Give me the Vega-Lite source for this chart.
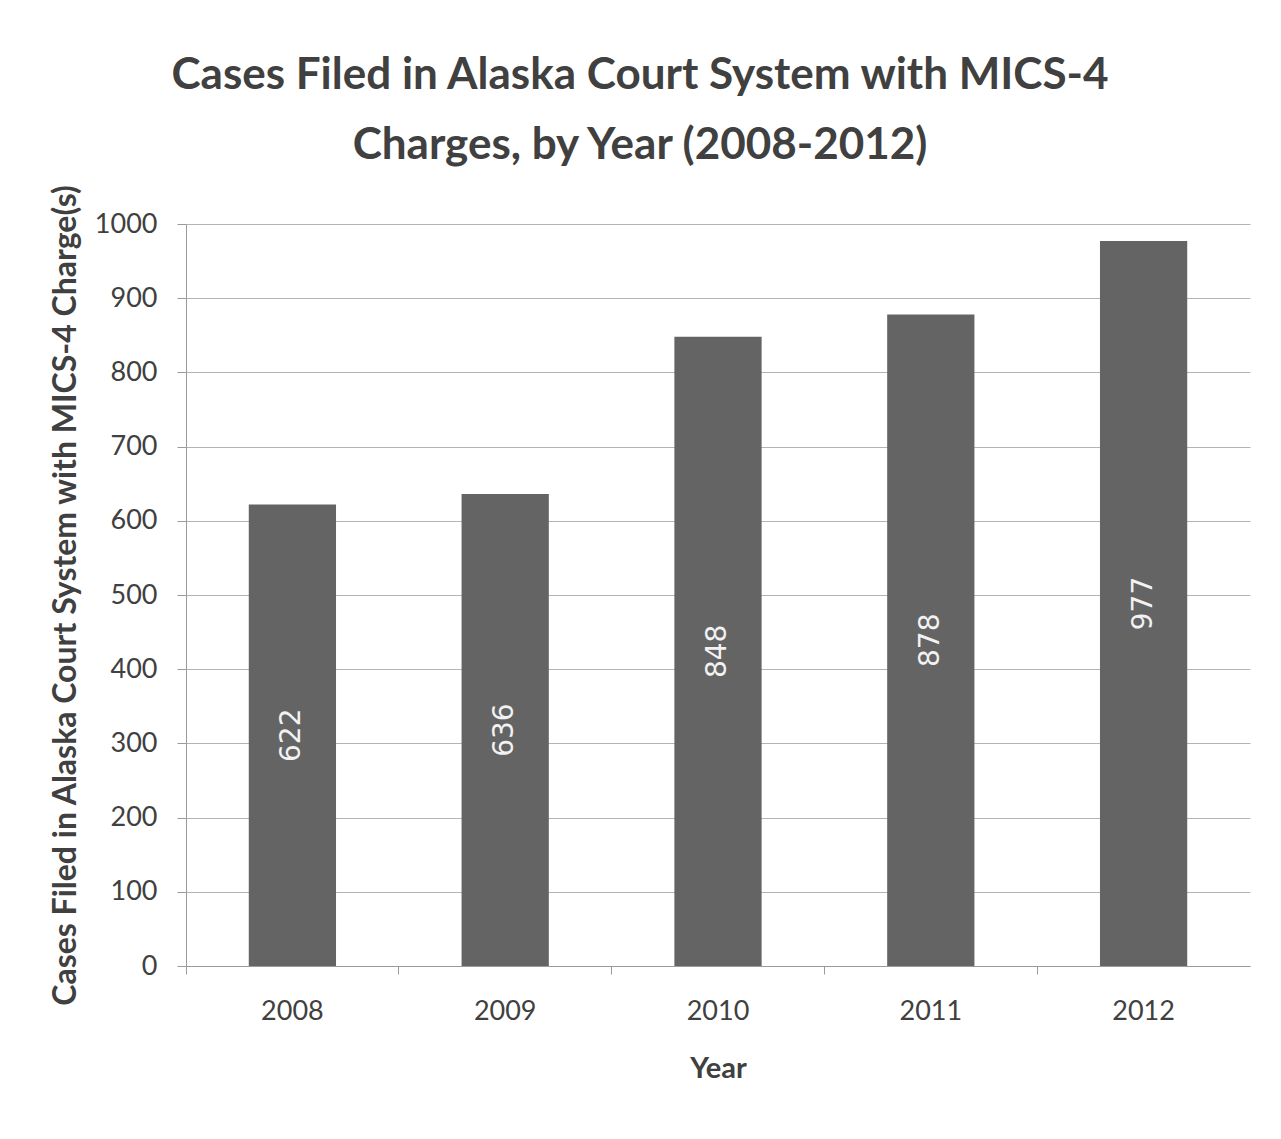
{
  "$schema": "https://vega.github.io/schema/vega-lite/v6.json",
  "autosize": "none",
  "width": 1064,
  "height": 742,
  "padding": {"left": 186, "top": 224, "right": 31, "bottom": 173},
  "background": "white",
  "title": {
    "text": ["Cases Filed in Alaska Court System with MICS-4", "Charges, by Year (2008-2012)"],
    "font": "Lato",
    "fontSize": 44,
    "fontWeight": "bold",
    "color": "#404040",
    "anchor": "middle",
    "dx": -78,
    "lineHeight": 70,
    "offset": 16
  },
  "data": {
    "values": [
      {"Year": "2008", "Cases": 622},
      {"Year": "2009", "Cases": 636},
      {"Year": "2010", "Cases": 848},
      {"Year": "2011", "Cases": 878},
      {"Year": "2012", "Cases": 977}
    ]
  },
  "transform": [{"calculate": "datum.Cases / 2", "as": "LabelPos"}],
  "encoding": {
    "x": {
      "field": "Year",
      "type": "nominal",
      "scale": {"paddingInner": 0, "paddingOuter": 0},
      "axis": {
        "title": "Year",
        "labelAngle": 0,
        "bandPosition": 0,
        "grid": false,
        "domainColor": "#9a9a9a",
        "tickColor": "#9a9a9a",
        "tickSize": 8,
        "labelPadding": 24,
        "labelFont": "Lato",
        "labelFontSize": 27,
        "labelColor": "#404040",
        "titleFont": "Lato",
        "titleFontSize": 29,
        "titleFontWeight": "bold",
        "titleColor": "#404040",
        "titlePadding": 30
      }
    }
  },
  "layer": [
    {
      "mark": {"type": "bar", "color": "#646464", "width": {"band": 0.41}},
      "encoding": {
        "y": {
          "field": "Cases",
          "type": "quantitative",
          "scale": {"domain": [0, 1000]},
          "axis": {
            "title": "Cases Filed in Alaska Court System with MICS-4 Charge(s)",
            "values": [0, 100, 200, 300, 400, 500, 600, 700, 800, 900, 1000],
            "format": "d",
            "gridColor": "#b4b4b4",
            "gridWidth": 1,
            "domainColor": "#9a9a9a",
            "tickColor": "#9a9a9a",
            "tickSize": 9,
            "labelPadding": 20,
            "labelFont": "Lato",
            "labelFontSize": 27,
            "labelColor": "#404040",
            "titleFont": "Lato",
            "titleFontSize": 32,
            "titleFontWeight": "bold",
            "titleColor": "#404040",
            "titlePadding": 12
          }
        }
      }
    },
    {
      "mark": {"type": "text", "angle": -90, "color": "#f2f2f2", "font": "DejaVu Sans", "fontSize": 28, "baseline": "middle", "align": "center"},
      "encoding": {
        "y": {"field": "LabelPos", "type": "quantitative"},
        "text": {"field": "Cases", "type": "quantitative"}
      }
    }
  ],
  "config": {"view": {"stroke": null}}
}
